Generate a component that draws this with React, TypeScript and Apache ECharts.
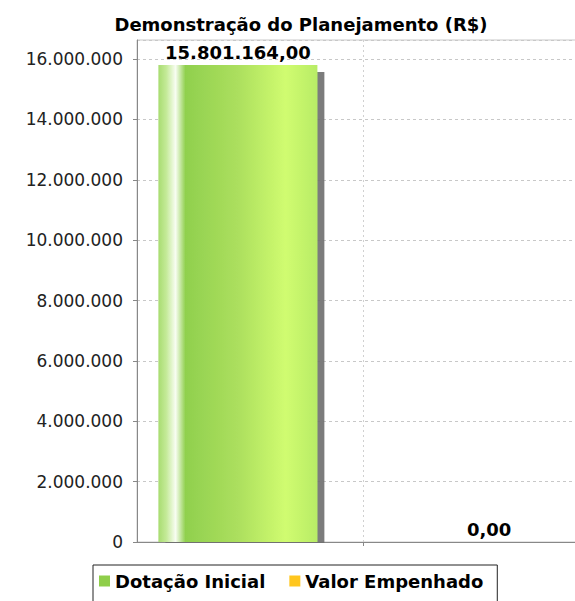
import React, { useEffect, useRef } from "react";
import * as echarts from "echarts";

const categories = ["Planejamento"];
const seriesNames = ["Dotação Inicial", "Valor Empenhado"];
const dotacaoInicial = [15801164.0];
const valorEmpenhado = [0.0];
const yTicks = [0, 2000000, 4000000, 6000000, 8000000, 10000000, 12000000, 14000000, 16000000];
const seriesColors = ["#8fce4a", "#ffc61e"];

const FONT = "'DejaVu Sans', sans-serif";

function fmtInt(v: number): string {
  return Math.round(v).toString().replace(/\B(?=(\d{3})+(?!\d))/g, ".");
}
function fmtMoney(v: number): string {
  const fixed = v.toFixed(2);
  const [i, d] = fixed.split(".");
  return i.replace(/\B(?=(\d{3})+(?!\d))/g, ".") + "," + d;
}

export default function App() {
  const ref = useRef<HTMLDivElement>(null);
  useEffect(() => {
    if (!ref.current) return;
    const chart = echarts.init(ref.current, null, { renderer: "svg" });
    const labelStyle = {
      show: true,
      position: "top" as const,
      distance: 4,
      fontFamily: FONT,
      fontWeight: "bold" as const,
      fontSize: 18,
      color: "#000",
      formatter: (p: any) => fmtMoney(p.value),
    };
    chart.setOption({
      animation: false,
      backgroundColor: "#ffffff",
      title: {
        text: "Demonstração do Planejamento (R$)",
        left: 296,
        textAlign: "center",
        top: 10,
        textStyle: { fontFamily: FONT, fontWeight: "bold", fontSize: 18, color: "#000" },
      },
      legend: {
        data: [
          { name: seriesNames[0], itemStyle: { color: seriesColors[0] } },
          { name: seriesNames[1], itemStyle: { color: seriesColors[1] } },
        ],
        left: 93,
        top: 565,
        borderColor: "#222",
        borderWidth: 1,
        borderRadius: 0,
        padding: [7, 14, 14, 6],
        itemWidth: 11,
        itemHeight: 11,
        itemGap: 24,
        icon: "rect",
        textStyle: { fontFamily: FONT, fontWeight: "bold", fontSize: 18, color: "#000" },
      },
      grid: {
        left: 137,
        right: 0,
        top: 40,
        bottom: 601 - 542,
        show: true,
        borderColor: "#c8c8c8",
        borderWidth: 1,
        backgroundColor: "#ffffff",
      },
      xAxis: {
        type: "category",
        data: categories,
        axisLine: { lineStyle: { color: "#888", width: 1 } },
        axisTick: { show: true, alignWithLabel: true, length: 4, lineStyle: { color: "#888" } },
        axisLabel: { show: false },
        splitLine: { show: false },
      },
      yAxis: {
        type: "value",
        min: 0,
        max: 16630000,
        interval: 2000000,
        axisLine: { show: true, lineStyle: { color: "#888", width: 1 } },
        axisTick: { show: true, length: 4, lineStyle: { color: "#888" } },
        axisLabel: {
          margin: 14,
          fontFamily: FONT,
          fontSize: 17,
          color: "#222",
          showMaxLabel: false,
          formatter: (v: number) => (yTicks.includes(v) ? fmtInt(v) : ""),
        },
        splitLine: { show: true, lineStyle: { color: "#c8c8c8", type: [3, 3], width: 1 } },
      },
      series: [
        {
          name: "categoryGridline",
          type: "line",
          data: [],
          silent: true,
          markLine: {
            silent: true,
            symbol: "none",
            label: { show: false },
            lineStyle: { color: "#d0d0d0", type: [2, 3], width: 1 },
            data: [{ xAxis: 0 }],
          },
        },
        {
          name: seriesNames[0],
          type: "bar",
          data: dotacaoInicial,
          barWidth: 159,
          barGap: "58%",
          itemStyle: {
            color: new echarts.graphic.LinearGradient(0, 0, 1, 0, [
              { offset: 0, color: "#a8dc70" },
              { offset: 0.05, color: "#c4ea98" },
              { offset: 0.108, color: "#f8fdf2" },
              { offset: 0.17, color: "#90d04e" },
              { offset: 0.5, color: "#acdf5e" },
              { offset: 0.8, color: "#d0fc70" },
              { offset: 1, color: "#b8ec66" },
            ]),
            shadowColor: "rgba(110,110,110,0.9)",
            shadowOffsetX: 7,
            shadowOffsetY: 7,
            shadowBlur: 0,
          },
          label: labelStyle,
        },
        {
          name: seriesNames[1],
          type: "bar",
          data: valorEmpenhado,
          barWidth: 159,
          itemStyle: { color: seriesColors[1] },
          label: labelStyle,
        },
      ],
      color: seriesColors,
    });

    // Clip the bar shadow at the category axis (plot data area), as in the original.
    const axisY = chart.convertToPixel({ yAxisIndex: 0 }, 0) as number;
    const leftX = chart.convertToPixel({ xAxisIndex: 0 }, 0) as number;
    const gridLeft = 137;
    chart.setOption({
      graphic: [
        {
          type: "rect",
          z: 100,
          silent: true,
          shape: { x: gridLeft + 1, y: axisY + 1, width: leftX - gridLeft - 20, height: 14 },
          style: { fill: "#ffffff" },
        },
      ],
    });
    return () => chart.dispose();
  }, []);
  return (
    <div
      ref={ref}
      style={{ position: "fixed", left: 0, top: 0, width: 590, height: 601 }}
    />
  );
}
